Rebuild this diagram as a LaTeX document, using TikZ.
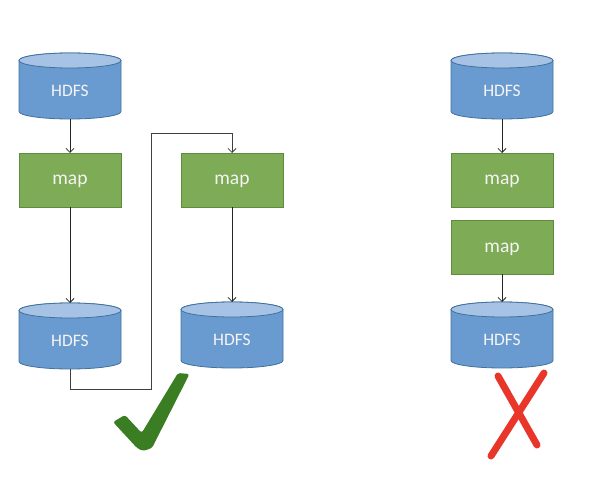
\documentclass[tikz,border=0pt]{standalone}
\usepackage{fontspec}
\setmainfont{Carlito}
\usetikzlibrary{arrows.meta}
\definecolor{cylbody}{HTML}{6A9BD0}
\definecolor{cyltop}{HTML}{A6C3E6}
\definecolor{cylline}{HTML}{41719C}
\definecolor{mapfill}{HTML}{7EAB55}
\definecolor{mapline}{HTML}{5E8C3E}
\definecolor{txtcol}{HTML}{F4F4F4}
\definecolor{okgreen}{HTML}{3A7D22}
\definecolor{nored}{HTML}{E8362A}
\tikzset{
  cylnode/.style={minimum width=102pt, minimum height=66pt, inner sep=0pt, outer sep=0pt},
  cyltext/.style={text=txtcol, font=\fontsize{17.5}{20}\selectfont, inner sep=0pt},
  mapbox/.style={draw=mapline, fill=mapfill, line width=0.8pt, minimum width=102pt,
    minimum height=54pt, inner sep=0pt, outer sep=0pt, text depth=0pt, text=txtcol,
    font=\fontsize{19.5}{22}\selectfont},
  conn/.style={draw=black!85, line width=0.8pt, -{Straight Barb[length=4pt,width=8pt]}},
}
\newcommand\dbcyl[3]{% name, x, y
  \node[cylnode] (#1) at (#2,#3) {};
  \path[fill=cylbody, draw=cylline, line width=0.8pt]
    ([yshift=-7.5pt]#1.north west) -- ([yshift=7.5pt]#1.south west)
    arc[start angle=180, end angle=360, x radius=51pt, y radius=7.5pt]
    -- ([yshift=-7.5pt]#1.north east)
    arc[start angle=0, end angle=180, x radius=51pt, y radius=7.5pt] -- cycle;
  \path[fill=cyltop, draw=cylline, line width=0.8pt]
    ([yshift=-7.5pt]#1.north) ellipse[x radius=51pt, y radius=7.5pt];
  \node[cyltext] (#1t) at ([yshift=-5pt]#1.center) {HDFS};
}
\begin{document}
\begin{tikzpicture}[x=1pt,y=1pt]
\useasboundingbox (0,0) rectangle (598,-492);
% left chain
\dbcyl{h1}{70}{-86}
\node[mapbox] (m1) at (70,-180) {map};
\dbcyl{h2}{70}{-336}
% middle chain
\node[mapbox] (m2) at (232,-180) {map};
\dbcyl{h3}{232}{-335}
% right chain
\dbcyl{h4}{502}{-86}
\node[mapbox] (m3) at (502,-180) {map};
\node[mapbox] (m4) at (502,-247.5) {map};
\dbcyl{h5}{502}{-335}
% connectors
\coordinate (c1) at (151,-389);
\coordinate (c2) at (151,-133);
\draw[conn] (h1.south) -- (m1.north);
\draw[conn] (m1.south) -- (h2.north);
\draw[conn, draw=black!75] (h2.south) |- (c1) -- (c2) -| (m2.north);
\draw[conn] (m2.south) -- (h3.north);
\draw[conn] (h4.south) -- (m3.north);
\draw[conn] (m4.south) -- (h5.north);
% check mark
\fill[okgreen, rounded corners=2.5pt] (113,-422) -- (125,-415) -- (141.7,-433) -- (178,-373)
  -- (189.5,-374) -- (152,-448) -- (143,-451) -- (137,-448) -- cycle;
% red cross
\draw[nored, line width=7pt, line cap=round] (498,-376) -- (537,-445);
\draw[nored, line width=7pt, line cap=round] (544,-373) -- (491,-456);
\end{tikzpicture}
\end{document}
